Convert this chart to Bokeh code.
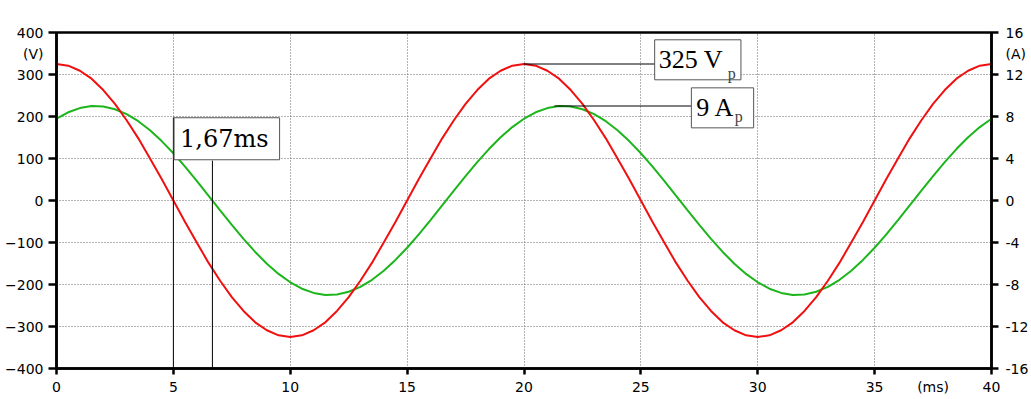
import numpy as np
from bokeh.plotting import figure
from bokeh.models import LinearAxis, Range1d, FixedTicker, Label
from bokeh.embed import file_html
from bokeh.resources import INLINE

# ---- data ----
time_ms = np.arange(0, 40.5, 0.5)
voltage_v = [325, 321, 309, 290, 263, 230, 191, 148, 100, 51, 0, -51, -100, -148, -191, -230, -263, -290, -309, -321,
             -325, -321, -309, -290, -263, -230, -191, -148, -100, -51, 0, 51, 100, 148, 191, 230, 263, 290, 309, 321,
             325, 321, 309, 290, 263, 230, 191, 148, 100, 51, 0, -51, -100, -148, -191, -230, -263, -290, -309, -321,
             -325, -321, -309, -290, -263, -230, -191, -148, -100, -51, 0, 51, 100, 148, 191, 230, 263, 290, 309, 321,
             325]
current_a = [7.79, 8.40, 8.80, 8.99, 8.95, 8.69, 8.22, 7.55, 6.69, 5.66, 4.50, 3.23, 1.87, 0.47, -0.94, -2.33, -3.66, -4.90, -6.02, -6.99,
             -7.79, -8.40, -8.80, -8.99, -8.95, -8.69, -8.22, -7.55, -6.69, -5.66, -4.50, -3.23, -1.87, -0.47, 0.94, 2.33, 3.66, 4.90, 6.02, 6.99,
             7.79, 8.40, 8.80, 8.99, 8.95, 8.69, 8.22, 7.55, 6.69, 5.66, 4.50, 3.23, 1.87, 0.47, -0.94, -2.33, -3.66, -4.90, -6.02, -6.99,
             -7.79, -8.40, -8.80, -8.99, -8.95, -8.69, -8.22, -7.55, -6.69, -5.66, -4.50, -3.23, -1.87, -0.47, 0.94, 2.33, 3.66, 4.90, 6.02, 6.99,
             7.79]
x_ticks = [0, 5, 10, 15, 20, 25, 30, 35, 40]
v_ticks = [-400, -300, -200, -100, 0, 100, 200, 300, 400]
a_tick_labels = ["-16", "-12", "-8", "-4", "0", "4", "8", "12", "16"]
x_unit, v_unit, a_unit = "(ms)", "(V)", "(A)"
x_unit_pos, y_unit_pos = 37.5, 350
v_zero_cross = 5.0
phase_shift_ms = 1.67
v_peak = 325
i_peak = 9

RED = "#f01010"
GREEN = "#1cb51c"
TICK_FONT = "DejaVu Sans"
TICK_SIZE = "14px"
TICK_COLOR = "#000000"

p = figure(width=1031, height=399, x_range=Range1d(0, 40), y_range=Range1d(-400, 400),
           output_backend="svg", toolbar_location=None,
           min_border_left=56, min_border_right=37, min_border_top=32, min_border_bottom=31)
p.extra_y_ranges = {"amps": Range1d(-16, 16)}
p.background_fill_color = "white"
p.border_fill_color = "white"
p.outline_line_color = "black"
p.outline_line_width = 2.5


def line_axis(ax, tick_out):
    ax.axis_line_color = "black"
    ax.axis_line_width = 2.5
    ax.major_tick_line_color = "black"
    ax.major_tick_line_width = 2.5
    ax.major_tick_in = 0
    ax.major_tick_out = tick_out
    ax.minor_tick_in = 0
    ax.minor_tick_out = 0
    ax.major_label_standoff = 0
    ax.major_label_text_font_size = "1px"
    ax.major_label_text_alpha = 0


def label_axis(ax, standoff):
    ax.axis_line_color = None
    ax.major_tick_line_color = None
    ax.minor_tick_line_color = None
    ax.major_tick_in = 0
    ax.major_tick_out = 0
    ax.minor_tick_in = 0
    ax.minor_tick_out = 0
    ax.major_label_standoff = standoff
    ax.major_label_text_font = TICK_FONT
    ax.major_label_text_font_size = TICK_SIZE
    ax.major_label_text_color = TICK_COLOR


# axes next to the frame: lines and ticks
p.xaxis[0].ticker = FixedTicker(ticks=x_ticks)
p.yaxis[0].ticker = FixedTicker(ticks=v_ticks)
line_axis(p.xaxis[0], 6)
line_axis(p.yaxis[0], 8)
r1 = LinearAxis(ticker=FixedTicker(ticks=v_ticks))
line_axis(r1, 7)
p.add_layout(r1, "right")

# outer axes: labels (with units)
b2 = LinearAxis(ticker=FixedTicker(ticks=x_ticks + [x_unit_pos]),
                major_label_overrides={x_unit_pos: x_unit})
label_axis(b2, 4)
p.add_layout(b2, "below")
l2 = LinearAxis(ticker=FixedTicker(ticks=v_ticks + [y_unit_pos]),
                major_label_overrides={y_unit_pos: v_unit})
label_axis(l2, 5)
p.add_layout(l2, "left")
r_over = {v: a for v, a in zip(v_ticks, a_tick_labels)}
r_over[y_unit_pos] = a_unit
r2 = LinearAxis(ticker=FixedTicker(ticks=v_ticks + [y_unit_pos]), major_label_overrides=r_over)
label_axis(r2, 7)
p.add_layout(r2, "right")

p.xgrid[0].ticker = FixedTicker(ticks=x_ticks)
p.ygrid[0].ticker = FixedTicker(ticks=v_ticks)
for g in [p.xgrid[0], p.ygrid[0]]:
    g.grid_line_color = "#666666"
    g.grid_line_dash = "1 2"
    g.grid_line_width = 1

# curves
p.line(time_ms, current_a, y_range_name="amps", color=GREEN, line_width=2)
p.line(time_ms, voltage_v, color=RED, line_width=2)

# annotation lines
p.segment(x0=[v_zero_cross, v_zero_cross + phase_shift_ms], y0=[-400, -400],
          x1=[v_zero_cross, v_zero_cross + phase_shift_ms], y1=[198, 95], color="black", line_width=1)
t_v_peak = 20.0
t_i_peak = 21.3
p.segment(x0=[t_v_peak], y0=[v_peak], x1=[25.6], y1=[v_peak], color="black", line_width=1)
p.segment(x0=[t_i_peak], y0=[i_peak], x1=[27.16], y1=[i_peak], color="black", line_width=1,
          y_range_name="amps")

box_kw = dict(background_fill_color="white", border_line_color="#555555", border_line_width=1,
              text_align="left", text_baseline="middle", text_color="black")
p.add_layout(Label(x=5.03, y=147, text="1,67ms", text_font="DejaVu Serif", text_font_size="24px",
                   padding=dict(left=6, right=11, top=7, bottom=7), **box_kw))
p.add_layout(Label(x=25.59, y=335, text="325 V", text_font="Liberation Serif", text_font_size="26px",
                   padding=dict(left=4, right=18, top=5, bottom=6), **box_kw))
p.add_layout(Label(x=27.16, y=220.6, text="9 A", text_font="Liberation Serif", text_font_size="26px",
                   padding=dict(left=5, right=19, top=5, bottom=6), **box_kw))
p.add_layout(Label(x=28.72, y=302.5, text="p", text_font="Liberation Serif", text_font_size="16px",
                   text_align="left", text_baseline="alphabetic"))
p.add_layout(Label(x=29.02, y=199, text="p", text_font="Liberation Serif", text_font_size="16px",
                   text_align="left", text_baseline="alphabetic"))

open("out.html", "w").write(file_html(p, INLINE))
